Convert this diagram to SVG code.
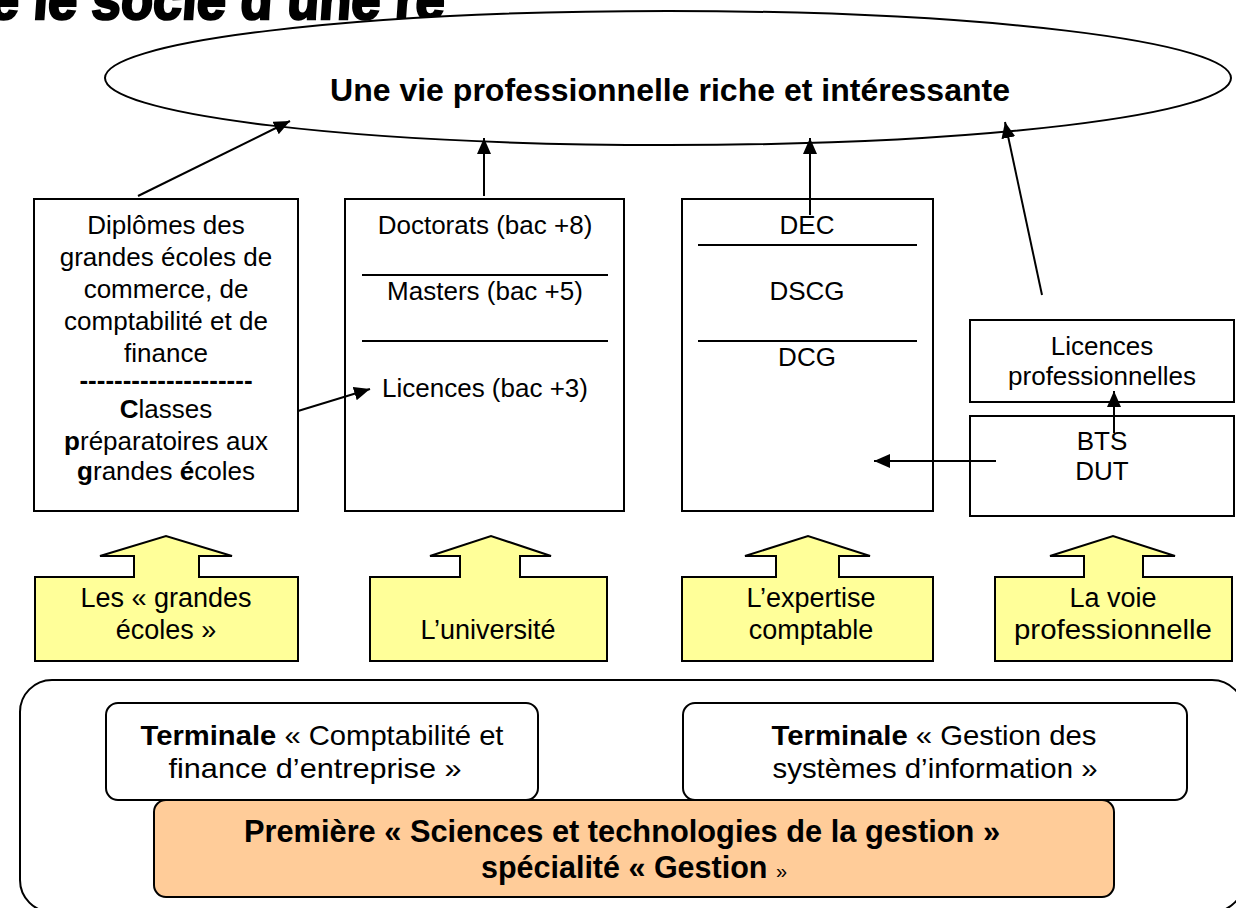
<svg xmlns="http://www.w3.org/2000/svg" width="1236" height="908" viewBox="0 0 1236 908">
<style>
text{font-family:"Liberation Sans",Arial,sans-serif;fill:#000}
.t{font-size:26px;text-anchor:middle}
.c{font-size:27px;text-anchor:middle}
.tm{font-size:28px;text-anchor:middle}
.b{font-weight:bold}
.box{fill:#fff;stroke:#000;stroke-width:2}
.yel{fill:#FFFF99;stroke:#000;stroke-width:2}
.ln{stroke:#000;stroke-width:2;fill:none}
.arr{stroke:#000;stroke-width:2;fill:none;marker-end:url(#ah)}
</style>
<defs>
<marker id="ah" markerUnits="userSpaceOnUse" markerWidth="18" markerHeight="16" refX="16" refY="7" orient="auto" viewBox="0 0 18 16">
<path d="M0,0 L16,7 L0,14 z" fill="#000"/>
</marker>
</defs>

<g id="title">
<text x="-10" y="19" font-family="'DejaVu Sans Condensed','DejaVu Sans',sans-serif" font-weight="bold" font-size="56" stroke="#000" stroke-width="2.5" textLength="455" lengthAdjust="spacingAndGlyphs" transform="skewX(-4)">e le socle d’une ré</text>
</g>

<g id="goal">
<ellipse cx="668" cy="78" rx="563" ry="67" fill="#fff" stroke="#000" stroke-width="2"/>
<text x="670" y="101" class="b" font-size="31.5" text-anchor="middle" textLength="680" lengthAdjust="spacingAndGlyphs">Une vie professionnelle riche et intéressante</text>
</g>

<g id="grandes-ecoles-box">
<rect x="34" y="199" width="264" height="312" class="box"/>
<text class="t" x="166" y="234">Diplômes des</text>
<text class="t" x="166" y="266">grandes écoles de</text>
<text class="t" x="166" y="298">commerce, de</text>
<text class="t" x="166" y="330">comptabilité et de</text>
<text class="t" x="166" y="362">finance</text>
<text class="t b" x="166" y="389">--------------------</text>
<text class="t" x="166" y="418"><tspan font-weight="bold">C</tspan>lasses</text>
<text class="t" x="166" y="450"><tspan font-weight="bold">p</tspan>réparatoires aux</text>
<text class="t" x="166" y="480"><tspan font-weight="bold">g</tspan>randes <tspan font-weight="bold">é</tspan>coles</text>
</g>

<g id="universite-box">
<rect x="345" y="199" width="279" height="312" class="box"/>
<text class="t" x="485" y="234">Doctorats (bac +8)</text>
<line x1="362" y1="275" x2="608" y2="275" class="ln"/>
<text class="t" x="485" y="300">Masters (bac +5)</text>
<line x1="362" y1="341" x2="608" y2="341" class="ln"/>
<text class="t" x="485" y="397">Licences (bac +3)</text>
</g>

<g id="expertise-box">
<rect x="682" y="199" width="251" height="312" class="box"/>
<text class="t" x="807" y="234">DEC</text>
<line x1="698" y1="245" x2="917" y2="245" class="ln"/>
<text class="t" x="807" y="300">DSCG</text>
<line x1="698" y1="341" x2="917" y2="341" class="ln"/>
<text class="t" x="807" y="366">DCG</text>
</g>

<g id="licences-pro-box">
<rect x="970" y="320" width="264" height="82" class="box"/>
<text class="t" x="1102" y="355">Licences</text>
<text class="t" x="1102" y="385">professionnelles</text>
</g>

<g id="bts-box">
<rect x="970" y="416" width="264" height="100" class="box"/>
<text class="t" x="1102" y="450">BTS</text>
<text class="t" x="1102" y="480">DUT</text>
</g>

<g id="callout-grandes-ecoles">
<path d="M35,577 H134 V556 H100 L166,536 L232,556 H199 V577 H298 V661 H35 Z" class="yel"/>
<text class="c" x="166" y="607">Les « grandes</text>
<text class="c" x="166" y="639">écoles »</text>
</g>
<g id="callout-universite">
<path d="M370,577 H460 V556 H430 L491,536 L551,556 H520 V577 H607 V661 H370 Z" class="yel"/>
<text class="c" x="488" y="639">L’université</text>
</g>
<g id="callout-expertise">
<path d="M682,577 H776 V556 H745 L808,536 L870,556 H839 V577 H933 V661 H682 Z" class="yel"/>
<text class="c" x="811" y="607">L’expertise</text>
<text class="c" x="811" y="639">comptable</text>
</g>
<g id="callout-voie-pro">
<path d="M995,577 H1084 V556 H1050 L1113,536 L1175,556 H1143 V577 H1232 V661 H995 Z" class="yel"/>
<text class="c" x="1113" y="607">La voie</text>
<text class="c" x="1113" y="639" textLength="198" lengthAdjust="spacingAndGlyphs">professionnelle</text>
</g>

<g id="lycee-frame">
<rect x="20" y="680" width="1224" height="232" rx="32" ry="32" fill="none" stroke="#000" stroke-width="2"/>
</g>

<g id="terminale-cfe">
<rect x="106" y="703" width="432" height="97" rx="12" ry="12" class="box"/>
<text class="tm" x="322" y="745" textLength="363" lengthAdjust="spacingAndGlyphs"><tspan font-weight="bold">Terminale</tspan> « Comptabilité et</text>
<text class="tm" x="315" y="778" textLength="293" lengthAdjust="spacingAndGlyphs">finance d’entreprise »</text>
</g>

<g id="terminale-gsi">
<rect x="683" y="703" width="504" height="97" rx="12" ry="12" class="box"/>
<text class="tm" x="934" y="745" textLength="325" lengthAdjust="spacingAndGlyphs"><tspan font-weight="bold">Terminale</tspan> « Gestion des</text>
<text class="tm" x="935" y="778" textLength="325" lengthAdjust="spacingAndGlyphs">systèmes d’information »</text>
</g>

<g id="premiere">
<rect x="154" y="800" width="960" height="97" rx="12" ry="12" fill="#FFCC99" stroke="#000" stroke-width="2"/>
<text x="622" y="842" class="b" font-size="30.5" text-anchor="middle" textLength="756" lengthAdjust="spacingAndGlyphs">Première « Sciences et technologies de la gestion »</text>
<text x="634" y="878" class="b" font-size="30.5" text-anchor="middle">spécialité « Gestion <tspan font-weight="normal" font-size="20">»</tspan></text>
</g>

<g id="connectors">
<line x1="138" y1="196" x2="290" y2="121" class="arr"/>
<line x1="484" y1="196" x2="484" y2="138" class="arr"/>
<line x1="810" y1="215" x2="810" y2="138" class="arr"/>
<line x1="1042" y1="295" x2="1005" y2="122" class="arr"/>
<line x1="298" y1="411" x2="370" y2="389" class="arr"/>
<line x1="996" y1="461" x2="874" y2="461" class="arr"/>
<line x1="1114" y1="433" x2="1114" y2="391" class="arr"/>
</g>
</svg>
